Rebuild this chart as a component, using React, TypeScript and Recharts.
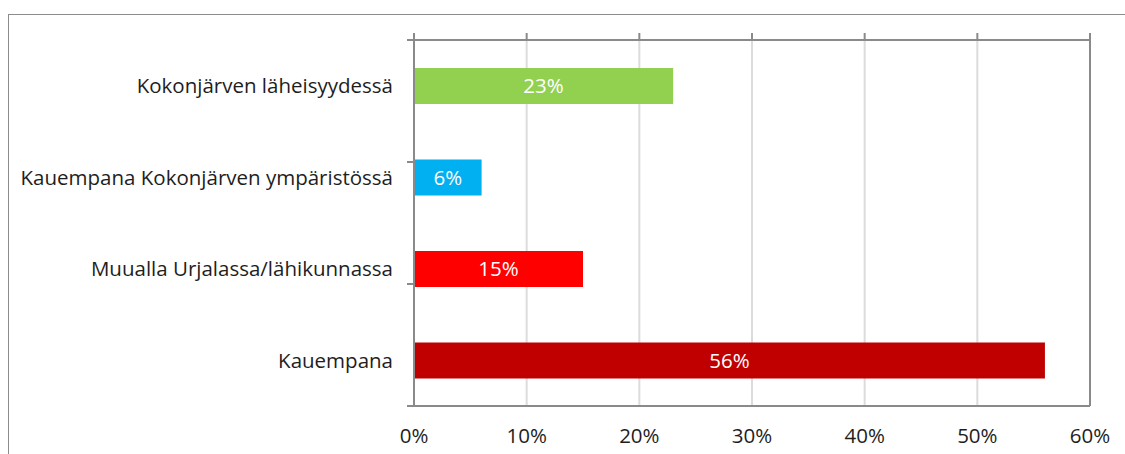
import { BarChart, Bar, XAxis, YAxis, CartesianGrid, Cell, LabelList } from 'recharts';

const categories = [
  'Kokonjärven läheisyydessä',
  'Kauempana Kokonjärven ympäristössä',
  'Muualla Urjalassa/lähikunnassa',
  'Kauempana',
];
const shares = [23, 6, 15, 56];
const barColors = ['#92D050', '#00B0F0', '#FF0000', '#C00000'];
const percentTicks = [0, 10, 20, 30, 40, 50, 60];
const boundaryTicks = [0, 1, 2, 3, 4];

const AXIS = '#8A8A8A';
const TEXT = '#1E1E1E';
const FONT = "'Open Sans', sans-serif";
const FONT_SIZE = 20.5;

export default function App() {
  const chartData = categories.map((name, i) => ({ name, value: shares[i] }));
  const blank = () => '';

  return (
    <div style={{ position: 'absolute', left: 0, top: 0, width: 1125, height: 454, overflow: 'hidden', background: '#fff' }}>
      {/* outer chart-area frame, runs past the right and bottom edges */}
      <div
        style={{
          position: 'absolute',
          left: 8,
          top: 14,
          width: 1200,
          height: 600,
          border: '1px solid #8C8C8C',
        }}
      />
      <div style={{ position: 'absolute', left: 0, top: 0 }}>
        <BarChart
          width={1125}
          height={454}
          data={chartData}
          layout="vertical"
          margin={{ top: 33, right: 0, bottom: 0, left: 0 }}
          barSize={36}
          style={{ fontFamily: FONT }}
        >
          <CartesianGrid horizontal={false} stroke="#DCDCDC" strokeWidth={2} yAxisId="cat" />
          <XAxis
            type="number"
            domain={[0, 60]}
            ticks={percentTicks}
            allowDataOverflow
            height={48}
            tickLine={false}
            tickSize={0}
            tickMargin={22}
            stroke={AXIS}
            strokeWidth={2}
            tick={{ fill: TEXT, fontSize: FONT_SIZE }}
            tickFormatter={(v) => `${v}%`}
          />
          <XAxis
            xAxisId="top"
            orientation="top"
            type="number"
            domain={[0, 60]}
            ticks={percentTicks}
            allowDataOverflow
            height={7}
            tickSize={7}
            tickMargin={0}
            stroke={AXIS}
            strokeWidth={2}
            tickFormatter={blank}
          />
          <YAxis
            yAxisId="bnd"
            type="number"
            domain={[0, 4]}
            ticks={boundaryTicks}
            allowDataOverflow
            width={7}
            tickSize={7}
            tickMargin={0}
            stroke={AXIS}
            strokeWidth={2}
            tickFormatter={blank}
          />
          <YAxis
            yAxisId="cat"
            type="category"
            dataKey="name"
            width={407}
            interval={0}
            axisLine={false}
            tickLine={false}
            tickSize={0}
            tickMargin={14}
            tick={{ fill: TEXT, fontSize: FONT_SIZE }}
          />
          <YAxis
            yAxisId="r"
            orientation="right"
            type="number"
            domain={[0, 1]}
            allowDataOverflow
            width={35}
            tick={false}
            tickLine={false}
            stroke={AXIS}
            strokeWidth={2}
          />
          <Bar dataKey="value" yAxisId="cat" isAnimationActive={false}>
            {chartData.map((d, i) => (
              <Cell key={d.name} fill={barColors[i]} />
            ))}
            <LabelList
              dataKey="value"
              position="center"
              fill="#FFFFFF"
              fontSize={FONT_SIZE}
              formatter={(v: any) => `${v}%`}
            />
          </Bar>
        </BarChart>
      </div>
    </div>
  );
}
